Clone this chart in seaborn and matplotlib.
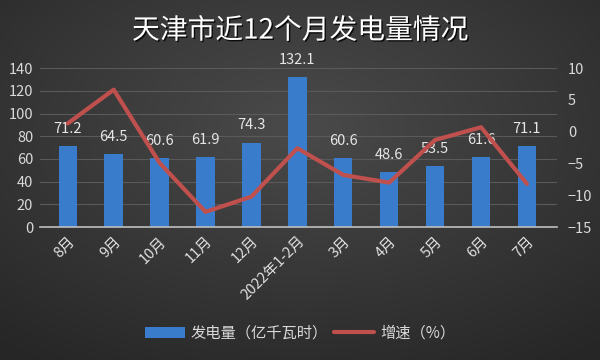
import numpy as np
import pandas as pd
import matplotlib
matplotlib.use("Agg")
import matplotlib.pyplot as plt
import seaborn as sns
from matplotlib.patches import Patch
from matplotlib.lines import Line2D
import matplotlib.patheffects as pe

# data
months = ["8月", "9月", "10月", "11月", "12月", "2022年1-2月", "3月", "4月", "5月", "6月", "7月"]
output = [71.2, 64.5, 60.6, 61.9, 74.3, 132.1, 60.6, 48.6, 53.5, 61.6, 71.1]
growth = [1.3, 6.6, -4.9, -12.6, -10.2, -2.6, -6.8, -8.0, -1.3, 0.7, -8.2]
left_ticks = [0, 20, 40, 60, 80, 100, 120, 140]
right_ticks = [-15, -10, -5, 0, 5, 10]

sns.set_style("dark")
plt.rcParams['font.family'] = ['Noto Sans CJK SC', 'DejaVu Sans']

df = pd.DataFrame({"month": months, "output": output, "growth": growth})

fig = plt.figure(figsize=(6, 3.6), dpi=100)
fig.patch.set_facecolor("#333333")

# gradient background, lighter near the top middle
bg = fig.add_axes([0, 0, 1, 1], zorder=-10)
yy, xx = np.mgrid[-1:1:200j, -1:1:300j]
r = np.sqrt(xx**2 + (yy + 0.3)**2)
bg.imshow(r, cmap=matplotlib.colors.LinearSegmentedColormap.from_list("g", ["#4a4a4a", "#262626"]),
          aspect="auto", extent=[0, 1, 0, 1], vmin=0, vmax=1.6)
bg.axis("off")

ax = fig.add_axes([0.067, 0.369, 0.861, 0.442])
ax.set_facecolor("none")
sns.barplot(data=df, x="month", y="output", ax=ax, color="#3a7ccc", width=0.4,
            saturation=1, linewidth=0, edgecolor="none", zorder=2)
ax.set_ylim(0, 140)
ax.set_yticks(left_ticks)
ax.grid(axis="y", color="#5a5a5a", lw=0.8, zorder=0)
ax.grid(axis="x", visible=False)
for s in ["top", "right", "left"]:
    ax.spines[s].set_visible(False)
ax.spines["bottom"].set_color("#bfbfbf")
ax.spines["bottom"].set_linewidth(1.2)
ax.set_xlabel("")
ax.set_ylabel("")
ax.tick_params(axis="both", colors="#d9d9d9", labelsize=10.5, length=0, pad=5)
plt.setp(ax.get_xticklabels(), rotation=45, ha="right", rotation_mode="anchor", color="#e0e0e0")
ax.set_xlim(-0.6, len(months) - 0.35)

for i, v in enumerate(output):
    ax.text(i, v + 9, f"{v:.1f}", ha="center", va="bottom", color="#e6e6e6", fontsize=10.5, zorder=5)

ax2 = ax.twinx()
sns.lineplot(x=np.arange(len(months)), y=growth, ax=ax2, color="#c0504d", lw=3, zorder=4)
ax2.set_ylim(-15, 10)
ax2.set_yticks(right_ticks)
ax2.grid(False)
for s in ax2.spines.values():
    s.set_visible(False)
ax2.tick_params(axis="y", colors="#d9d9d9", labelsize=10.5, length=0, pad=8)
ax2.set_ylabel("")

title = fig.text(0.5, 0.915, "天津市近12个月发电量情况", ha="center", va="center",
                 color="white", fontsize=20, fontweight="medium")
title.set_path_effects([pe.withSimplePatchShadow(offset=(1, -1), shadow_rgbFace="black", alpha=0.8)])

handles = [Patch(facecolor="#3a7ccc", edgecolor="none", label="发电量（亿千瓦时）"),
           Line2D([0], [0], color="#c0504d", lw=3, label="增速（%）")]
fig.legend(handles=handles, loc="center", bbox_to_anchor=(0.5, 0.075), ncol=2, frameon=False,
           labelcolor="#d9d9d9", fontsize=11, handlelength=2.6, columnspacing=0.4, handletextpad=0.4)

fig.savefig("out.png", dpi=100, facecolor=fig.get_facecolor())
